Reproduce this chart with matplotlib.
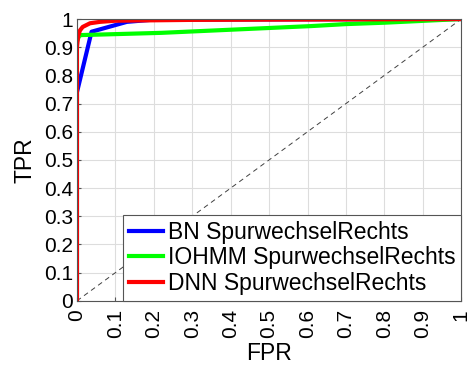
import matplotlib
matplotlib.use("Agg")
import matplotlib.pyplot as plt

plt.rcParams['font.family'] = ['Liberation Sans', 'DejaVu Sans']

# ROC curves (FPR, TPR)
bn_fpr = [0, 0, 0.038, 0.13, 0.2, 1.0]
bn_tpr = [0, 0.74, 0.955, 0.99, 0.998, 1.0]

iohmm_fpr = [0, 0, 0.005, 0.01, 0.22, 0.61, 0.70, 0.80, 1.0]
iohmm_tpr = [0, 0.92, 0.938, 0.943, 0.951, 0.975, 0.982, 0.987, 1.0]

dnn_fpr = [0, 0, 0.003, 0.008, 0.015, 0.034, 0.06, 0.1, 0.3, 1.0]
dnn_tpr = [0, 0.9, 0.94, 0.96, 0.972, 0.985, 0.99, 0.994, 0.997, 1.0]

ticks = [0, 0.1, 0.2, 0.3, 0.4, 0.5, 0.6, 0.7, 0.8, 0.9, 1]
tick_labels = ["0", "0.1", "0.2", "0.3", "0.4", "0.5", "0.6", "0.7", "0.8", "0.9", "1"]

fig = plt.figure(figsize=(4.75, 3.66), dpi=100)
ax = fig.add_axes([0.162, 0.178, 0.809, 0.77])

ax.plot([0, 1], [0, 1], color="#404040", linestyle=(0, (5, 4)), linewidth=0.7)
ax.plot(bn_fpr, bn_tpr, color="#0000ff", linewidth=3, label="BN SpurwechselRechts", solid_joinstyle="round")
ax.plot(iohmm_fpr, iohmm_tpr, color="#00ff00", linewidth=3, label="IOHMM SpurwechselRechts", solid_joinstyle="round")
ax.plot(dnn_fpr, dnn_tpr, color="#ff0000", linewidth=3, label="DNN SpurwechselRechts", solid_joinstyle="round")

ax.set_xlim(0, 1)
ax.set_ylim(0, 1)
ax.set_xticks(ticks)
ax.set_xticklabels(tick_labels, rotation=90, fontsize=15)
ax.set_yticks(ticks)
ax.set_yticklabels(tick_labels, fontsize=15)
ax.tick_params(direction="in", length=3, color="#555555")
ax.tick_params(axis="x", pad=6)
ax.tick_params(axis="y", pad=3)
ax.grid(True, color="#dddddd", linewidth=0.8)
ax.set_axisbelow(True)
for s in ax.spines.values():
    s.set_color("#555555")
    s.set_linewidth(0.8)

ax.set_xlabel("FPR", fontsize=16.5, labelpad=3)
ax.set_ylabel("TPR", fontsize=16.5, labelpad=5)

leg = ax.legend(loc="lower right", fontsize=16.5, fancybox=False, framealpha=1,
                edgecolor="#555555", borderpad=0.25, labelspacing=0.12,
                handlelength=1.5, handletextpad=0.2, borderaxespad=0.0)
leg.get_frame().set_linewidth(0.8)

fig.savefig("out.png", dpi=100)
